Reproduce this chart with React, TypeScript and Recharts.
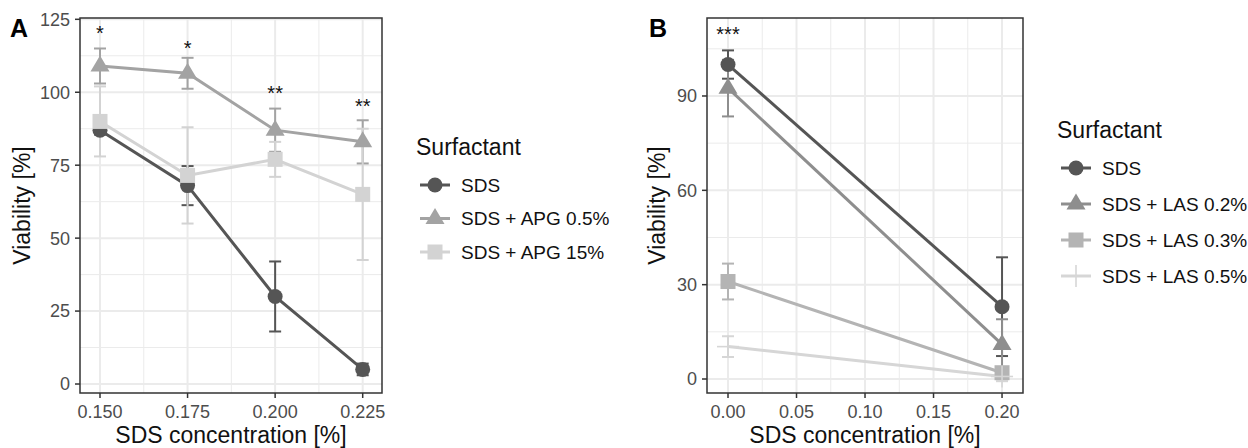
import React from 'react';
import {
  ComposedChart,
  Line,
  XAxis,
  YAxis,
  CartesianGrid,
  ErrorBar,
  LabelList,
  ReferenceArea,
} from 'recharts';

const FONT = '"Liberation Sans", Arial, Helvetica, sans-serif';

// ---------- Panel A data ----------
const concA = [0.15, 0.175, 0.2, 0.225];
const xTicksA = [0.15, 0.175, 0.2, 0.225];
const xTickLabelsA = ['0.150', '0.175', '0.200', '0.225'];
const xMinorA = [0.1625, 0.1875, 0.2125];
const yTicksA = [0, 25, 50, 75, 100, 125];
const yTickLabelsA = ['0', '25', '50', '75', '100', '125'];
const yMinorA = [12.5, 37.5, 62.5, 87.5, 112.5];

const namesA = ['SDS', 'SDS + APG 0.5%', 'SDS + APG 15%'];
const colorsA = ['#555555', '#A3A3A3', '#D3D3D3'];
const shapesA = ['circle', 'triangle', 'square'];

const sdsA = [87, 68, 30, 5];
const sdsErrA = [1.5, 6.7, 12, 2];
const apg05A = [109, 106.5, 87, 83];
const apg05ErrA = [6, 5.3, 7.4, 7.4];
const apg15A = [90, 71.5, 77, 65];
const apg15ErrA = [12, 16.5, 6, 22.5];

const starXA = [0.15, 0.175, 0.2, 0.225];
const starsA = ['*', '*', '**', '**'];
const starYA = [121.6, 116.4, 101.2, 96.6];

// ---------- Panel B data ----------
const concB = [0, 0.2];
const xTicksB = [0, 0.05, 0.1, 0.15, 0.2];
const xTickLabelsB = ['0.00', '0.05', '0.10', '0.15', '0.20'];
const xMinorB = [0.025, 0.075, 0.125, 0.175];
const yTicksB = [0, 30, 60, 90];
const yTickLabelsB = ['0', '30', '60', '90'];
const yMinorB = [15, 45, 75, 105];

const namesB = ['SDS', 'SDS + LAS 0.2%', 'SDS + LAS 0.3%', 'SDS + LAS 0.5%'];
const colorsB = ['#555555', '#8E8E8E', '#B4B4B4', '#D6D6D6'];
const shapesB = ['circle', 'triangle', 'square', 'plus'];

const sdsB = [100, 23];
const sdsErrB = [4.5, 15.7];
const las02B = [92.5, 11];
const las02ErrB = [9, 8];
const las03B = [31, 2];
const las03ErrB = [5.7, 1.5];
const las05B = [10.3, 0.8];
const las05ErrB = [3.3, 1.5];

const starXB = [0];
const starsB = ['***'];
const starYB = [111];

// ---------- helpers ----------
const build = (xs: number[], ys: number[], errs: number[]) =>
  xs.map((x, i) => ({ x, y: ys[i], err: errs[i] }));

const buildStars = (xs: number[], ys: number[], labels: string[]) =>
  xs.map((x, i) => ({ x, y: ys[i], s: labels[i] }));

function Marker({ shape, cx, cy, color }: any) {
  if (shape === 'circle') return <circle cx={cx} cy={cy} r={7.5} fill={color} />;
  if (shape === 'triangle') {
    const w = 9.5;
    const pts = `${cx},${cy - 10.5} ${cx - w},${cy + 5.5} ${cx + w},${cy + 5.5}`;
    return <polygon points={pts} fill={color} />;
  }
  if (shape === 'square')
    return <rect x={cx - 7.5} y={cy - 7.5} width={15} height={15} fill={color} />;
  return (
    <g stroke={color} strokeWidth={1.6}>
      <line x1={cx - 11} y1={cy} x2={cx + 11} y2={cy} />
      <line x1={cx} y1={cy - 11} x2={cx} y2={cy + 11} />
    </g>
  );
}

const makeDot = (shape: string, color: string) => (props: any) => {
  const { cx, cy, index } = props;
  if (cx == null || cy == null) return <g key={`d${index}`} />;
  return (
    <g key={`d${index}`}>
      <Marker shape={shape} cx={cx} cy={cy} color={color} />
    </g>
  );
};

const StarLabel = (props: any) => {
  const { x, y, value } = props;
  if (!value) return null;
  return (
    <text x={x} y={y + 11} textAnchor="middle" fontSize={20} fill="#111" fontFamily={FONT}>
      {value}
    </text>
  );
};

const fmt = (ticks: number[], labels: string[]) => (v: number) => {
  const i = ticks.findIndex((t) => Math.abs(t - v) < 1e-9);
  return i >= 0 ? labels[i] : String(v);
};

function Panel(p: any) {
  const {
    left, width, plotLeft, plotRight, xDomain, yDomain, xTicks, xTickLabels, xMinor,
    yTicks, yTickLabels, yMinor, series, stars, yTitleX,
  } = p;
  const tickStyle = { fontSize: 18, fill: '#4D4D4D', fontFamily: FONT };
  return (
    <div style={{ position: 'absolute', left, top: 0, width, height: 448 }}>
      <ComposedChart
        width={width}
        height={448}
        margin={{ top: 18, right: width - plotRight, bottom: 0, left: 0 }}
      >
        <CartesianGrid stroke="#EBEBEB" strokeWidth={1} horizontalValues={yMinor} verticalValues={xMinor} />
        <CartesianGrid stroke="#EBEBEB" strokeWidth={2} horizontalValues={yTicks} verticalValues={xTicks} />
        <XAxis
          type="number"
          dataKey="x"
          domain={xDomain}
          allowDataOverflow
          ticks={xTicks}
          interval={0}
          tickFormatter={fmt(xTicks, xTickLabels)}
          height={55}
          tickSize={5}
          tickMargin={7}
          axisLine={false}
          tickLine={{ stroke: '#333333', strokeWidth: 1.5 }}
          tick={tickStyle}
          label={{
            content: (lp: any) => {
              const vb = lp.viewBox || {};
              return (
                <text
                  x={vb.x + vb.width / 2}
                  y={vb.y + 50}
                  textAnchor="middle"
                  fontSize={23}
                  fill="#111"
                  fontFamily={FONT}
                >
                  SDS concentration [%]
                </text>
              );
            },
          }}
        />
        <YAxis
          type="number"
          domain={yDomain}
          allowDataOverflow
          ticks={yTicks}
          interval={0}
          tickFormatter={fmt(yTicks, yTickLabels)}
          width={plotLeft}
          tickSize={5}
          tickMargin={5}
          axisLine={false}
          tickLine={{ stroke: '#333333', strokeWidth: 1.5 }}
          tick={tickStyle}
          label={{
            content: (lp: any) => {
              const vb = lp.viewBox || {};
              const cy = vb.y + vb.height / 2;
              const bx = vb.x + yTitleX;
              return (
                <text
                  x={bx}
                  y={cy}
                  transform={`rotate(-90 ${bx} ${cy})`}
                  textAnchor="middle"
                  fontSize={23}
                  fill="#111"
                  fontFamily={FONT}
                >
                  Viability [%]
                </text>
              );
            },
          }}
        />
        {series.map((s: any) => (
          <Line
            key={s.name}
            data={s.data}
            dataKey="y"
            type="linear"
            stroke={s.color}
            strokeWidth={3}
            dot={makeDot(s.shape, s.color)}
            activeDot={false}
            isAnimationActive={false}
            legendType="none"
          >
            <ErrorBar dataKey="err" width={6} strokeWidth={2} stroke={s.color} direction="y" />
          </Line>
        ))}
        <Line
          data={stars}
          dataKey="y"
          stroke="none"
          dot={false}
          activeDot={false}
          isAnimationActive={false}
          legendType="none"
        >
          <LabelList dataKey="s" content={StarLabel} />
        </Line>
        <ReferenceArea
          x1={xDomain[0]}
          x2={xDomain[1]}
          y1={yDomain[0]}
          y2={yDomain[1]}
          fill="none"
          stroke="#333333"
          strokeWidth={1.5}
          ifOverflow="visible"
        />
      </ComposedChart>
    </div>
  );
}

function LegendBox({ left, titleX, titleY, firstY, spacing, names, colors, shapes }: any) {
  return (
    <svg
      style={{ position: 'absolute', left, top: 0 }}
      width={1248 - left}
      height={448}
      fontFamily={FONT}
    >
      <text x={titleX} y={titleY} fontSize={23} fill="#111">
        Surfactant
      </text>
      {names.map((n: string, i: number) => {
        const cy = firstY + i * spacing;
        return (
          <g key={n}>
            <line x1={titleX + 4} x2={titleX + 34} y1={cy} y2={cy} stroke={colors[i]} strokeWidth={3} />
            <Marker shape={shapes[i]} cx={titleX + 19} cy={cy} color={colors[i]} />
            <text x={titleX + 45} y={cy + 6.8} fontSize={19} fill="#111">
              {n}
            </text>
          </g>
        );
      })}
    </svg>
  );
}

export default function App() {
  const seriesA = [
    { name: namesA[0], color: colorsA[0], shape: shapesA[0], data: build(concA, sdsA, sdsErrA) },
    { name: namesA[1], color: colorsA[1], shape: shapesA[1], data: build(concA, apg05A, apg05ErrA) },
    { name: namesA[2], color: colorsA[2], shape: shapesA[2], data: build(concA, apg15A, apg15ErrA) },
  ];
  const seriesB = [
    { name: namesB[0], color: colorsB[0], shape: shapesB[0], data: build(concB, sdsB, sdsErrB) },
    { name: namesB[1], color: colorsB[1], shape: shapesB[1], data: build(concB, las02B, las02ErrB) },
    { name: namesB[2], color: colorsB[2], shape: shapesB[2], data: build(concB, las03B, las03ErrB) },
    { name: namesB[3], color: colorsB[3], shape: shapesB[3], data: build(concB, las05B, las05ErrB) },
  ];
  return (
    <div
      style={{
        position: 'absolute',
        left: 0,
        top: 0,
        width: 1248,
        height: 448,
        background: '#ffffff',
        overflow: 'hidden',
        fontFamily: FONT,
      }}
    >
      <Panel
        left={0}
        width={620}
        plotLeft={80}
        plotRight={382}
        xDomain={[0.14429, 0.23051]}
        yDomain={[-3.08, 125.45]}
        xTicks={xTicksA}
        xTickLabels={xTickLabelsA}
        xMinor={xMinorA}
        yTicks={yTicksA}
        yTickLabels={yTickLabelsA}
        yMinor={yMinorA}
        series={seriesA}
        stars={buildStars(starXA, starYA, starsA)}
        yTitleX={30}
      />
      <Panel
        left={620}
        width={628}
        plotLeft={87}
        plotRight={403}
        xDomain={[-0.01533, 0.2153]}
        yDomain={[-4.45, 114.8]}
        xTicks={xTicksB}
        xTickLabels={xTickLabelsB}
        xMinor={xMinorB}
        yTicks={yTicksB}
        yTickLabels={yTickLabelsB}
        yMinor={yMinorB}
        series={seriesB}
        stars={buildStars(starXB, starYB, starsB)}
        yTitleX={44.5}
      />
      <LegendBox
        left={400}
        titleX={16}
        titleY={155}
        firstY={185}
        spacing={33.5}
        names={namesA}
        colors={colorsA}
        shapes={shapesA}
      />
      <LegendBox
        left={1040}
        titleX={17}
        titleY={138}
        firstY={168}
        spacing={36}
        names={namesB}
        colors={colorsB}
        shapes={shapesB}
      />
      <svg style={{ position: 'absolute', left: 0, top: 0 }} width={1248} height={60}>
        <text x={10} y={37} fontSize={25} fontWeight="bold" fill="#000" fontFamily={FONT}>
          A
        </text>
        <text x={649} y={37} fontSize={25} fontWeight="bold" fill="#000" fontFamily={FONT}>
          B
        </text>
      </svg>
    </div>
  );
}
